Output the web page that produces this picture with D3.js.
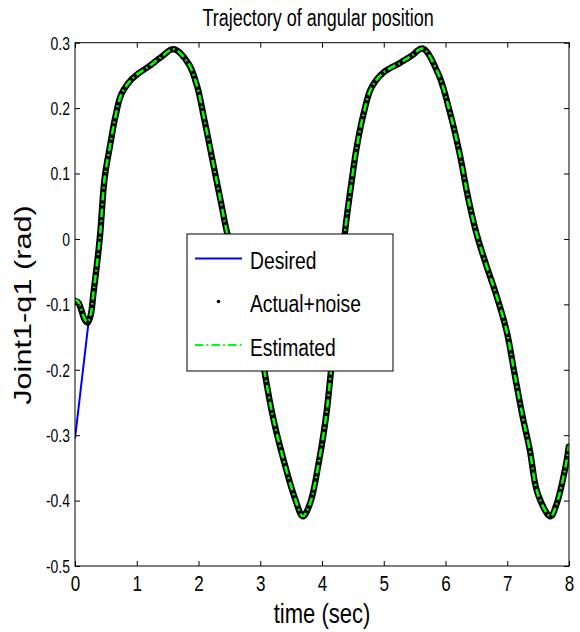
<!DOCTYPE html>
<html>
<head>
<meta charset="utf-8">
<script src="https://cdn.jsdelivr.net/npm/d3@7"></script>
<style>
  body { margin: 0; background: #fff; }
  text { font-family: "Liberation Sans", Arial, sans-serif; fill: #000; }
</style>
</head>
<body>
<script>
// values
const tDesired = [0, 0.1, 0.2, 0.3, 0.4, 0.48, 0.57, 0.65, 0.75, 0.88, 1.0, 1.2, 1.38, 1.6, 1.83, 1.97, 2.1, 2.24, 2.37, 2.47,
  2.63, 2.8, 2.97, 3.07, 3.21, 3.37, 3.56, 3.69, 3.8, 3.96, 4.07, 4.14, 4.26, 4.37, 4.48, 4.56, 4.67, 4.8, 4.99, 5.26,
  5.45, 5.63, 5.88, 6.07, 6.23, 6.36, 6.5, 6.66, 6.82, 6.99, 7.12, 7.25, 7.36, 7.5, 7.7, 7.8, 7.96, 8.0];
const qDesired = [-0.305, -0.224, -0.143, -0.065, 0.012, 0.093, 0.144, 0.185, 0.221, 0.24, 0.251, 0.264, 0.277, 0.29, 0.269, 0.236, 0.18, 0.114, 0.053, 0.007,
  -0.042, -0.085, -0.14, -0.203, -0.274, -0.335, -0.396, -0.424, -0.406, -0.335, -0.268, -0.207, -0.1, 0.009, 0.088, 0.139, 0.19, 0.231, 0.254, 0.269,
  0.28, 0.291, 0.253, 0.194, 0.13, 0.066, 0.009, -0.04, -0.085, -0.141, -0.207, -0.272, -0.32, -0.391, -0.424, -0.405, -0.34, -0.315];

const tActual = [0, 0.05, 0.1, 0.15, 0.2, 0.25, 0.3, 0.4, 0.48, 0.57, 0.65, 0.75, 0.88, 1.0, 1.2, 1.38, 1.6, 1.83, 1.97, 2.1, 2.24, 2.37, 2.47,
  2.63, 2.8, 2.97, 3.07, 3.21, 3.37, 3.56, 3.69, 3.8, 3.96, 4.07, 4.14, 4.26, 4.37, 4.48, 4.56, 4.67, 4.8, 4.99, 5.26,
  5.45, 5.63, 5.88, 6.07, 6.23, 6.36, 6.5, 6.66, 6.82, 6.99, 7.12, 7.25, 7.36, 7.5, 7.7, 7.8, 7.96, 8.0];
const qActual = [-0.095, -0.097, -0.108, -0.122, -0.128, -0.118, -0.082, 0.0, 0.093, 0.144, 0.185, 0.221, 0.24, 0.251, 0.264, 0.277, 0.29, 0.269, 0.236, 0.18, 0.114, 0.053, 0.007,
  -0.042, -0.085, -0.14, -0.203, -0.274, -0.335, -0.396, -0.424, -0.406, -0.335, -0.268, -0.207, -0.1, 0.009, 0.088, 0.139, 0.19, 0.231, 0.254, 0.269,
  0.28, 0.291, 0.253, 0.194, 0.13, 0.066, 0.009, -0.04, -0.085, -0.141, -0.207, -0.272, -0.32, -0.391, -0.424, -0.405, -0.34, -0.315];

const tEstimated = [0, 0.05, 0.1, 0.15, 0.2, 0.25, 0.3, 0.4, 0.48, 0.57, 0.65, 0.75, 0.88, 1.0, 1.2, 1.38, 1.6, 1.83, 1.97, 2.1, 2.24, 2.37, 2.47,
  2.63, 2.8, 2.97, 3.07, 3.21, 3.37, 3.56, 3.69, 3.8, 3.96, 4.07, 4.14, 4.26, 4.37, 4.48, 4.56, 4.67, 4.8, 4.99, 5.26,
  5.45, 5.63, 5.88, 6.07, 6.23, 6.36, 6.5, 6.66, 6.82, 6.99, 7.12, 7.25, 7.36, 7.5, 7.7, 7.8, 7.96, 8.0];
const qEstimated = [-0.093, -0.096, -0.107, -0.121, -0.127, -0.117, -0.081, 0.0, 0.093, 0.144, 0.185, 0.221, 0.24, 0.251, 0.264, 0.277, 0.29, 0.269, 0.236, 0.18, 0.114, 0.053, 0.007,
  -0.042, -0.085, -0.14, -0.203, -0.274, -0.335, -0.396, -0.424, -0.406, -0.335, -0.268, -0.207, -0.1, 0.009, 0.088, 0.139, 0.19, 0.231, 0.254, 0.269,
  0.28, 0.291, 0.253, 0.194, 0.13, 0.066, 0.009, -0.04, -0.085, -0.141, -0.207, -0.272, -0.32, -0.391, -0.424, -0.405, -0.34, -0.315];

const xTicks = [0, 1, 2, 3, 4, 5, 6, 7, 8];
const yTicks = [-0.5, -0.4, -0.3, -0.2, -0.1, 0, 0.1, 0.2, 0.3];
const yTickLabels = ["-0.5", "-0.4", "-0.3", "-0.2", "-0.1", "0", "0.1", "0.2", "0.3"];
const legendNames = ["Desired", "Actual+noise", "Estimated"];

// the original figure was stretched vertically, so the text is too
const k = 1.28;

const margin = {top: 42.7, right: 11, bottom: 66, left: 75},
    width = 580 - margin.left - margin.right,
    height = 632 - margin.top - margin.bottom;

const svg = d3.select("body").append("svg")
    .attr("width", 580)
    .attr("height", 632);

const g = svg.append("g")
    .attr("transform", `translate(${margin.left},${margin.top})`);

const x = d3.scaleLinear().domain([0, 8]).range([0, width]);
const y = d3.scaleLinear().domain([-0.5, 0.3]).range([height, 0]);

// clip the curves to the axes box
g.append("clipPath").attr("id", "clip")
  .append("rect").attr("width", width).attr("height", height);

function series(ts, qs) { return ts.map((t, i) => [t, qs[i]]); }

const line = d3.line()
    .x(d => x(d[0]))
    .y(d => y(d[1]))
    .curve(d3.curveCatmullRom.alpha(0.5));

const plot = g.append("g").attr("clip-path", "url(#clip)");

plot.append("path")
    .attr("d", line(series(tDesired, qDesired)))
    .attr("fill", "none")
    .attr("stroke", "#0000ff")
    .attr("stroke-width", 2);

// actual+noise: dense black dots
plot.append("path")
    .attr("d", line(series(tActual, qActual)))
    .attr("fill", "none")
    .attr("stroke", "#000")
    .attr("stroke-width", 6.5)
    .attr("stroke-linecap", "round")
    .attr("stroke-dasharray", "0.01 2.2");

plot.append("path")
    .attr("d", line(series(tEstimated, qEstimated)))
    .attr("fill", "none")
    .attr("stroke", "#00ff00")
    .attr("stroke-width", 2.6)
    .attr("stroke-dasharray", "8.3 3.3 1.7 3.3");

// axes, ticks inside on all four sides
function tidy(sel) {
  sel.select(".domain").remove();
  sel.selectAll(".tick line").attr("stroke", "#000");
}

const xAxis = g.append("g")
    .attr("transform", `translate(0,${height})`)
    .call(d3.axisBottom(x).tickValues(xTicks).tickSizeInner(-5).tickSizeOuter(0).tickFormat(d3.format("d")))
    .call(tidy);
xAxis.selectAll("text")
    .attr("y", null).attr("dy", null)
    .attr("transform", `translate(0,25) scale(1,${k})`)
    .attr("font-size", 17)
    .attr("fill", "#000");

g.append("g")
    .call(d3.axisTop(x).tickValues(xTicks).tickSizeInner(-5).tickSizeOuter(0).tickFormat(""))
    .call(tidy);

const yAxis = g.append("g")
    .call(d3.axisLeft(y).tickValues(yTicks).tickSizeInner(-5).tickSizeOuter(0)
      .tickFormat((d, i) => yTickLabels[i]))
    .call(tidy);
yAxis.selectAll("text")
    .attr("x", null).attr("dy", null)
    .attr("transform", `translate(-5,6.4) scale(1,${k})`)
    .attr("font-size", 14)
    .attr("fill", "#000");

g.append("g")
    .attr("transform", `translate(${width},0)`)
    .call(d3.axisRight(y).tickValues(yTicks).tickSizeInner(-5).tickSizeOuter(0).tickFormat(""))
    .call(tidy);

g.append("rect")
    .attr("width", width).attr("height", height)
    .attr("fill", "none").attr("stroke", "#000").attr("stroke-width", 1);

// titles
function label(txt, px, py, size, rot) {
  svg.append("text")
      .attr("transform", `translate(${px},${py}) scale(1,${k})` + (rot ? ` rotate(${rot})` : ""))
      .attr("text-anchor", "middle")
      .attr("font-size", size)
      .text(txt);
}
label("Trajectory of angular position", 318, 26, 18);
label("time (sec)", 322, 623, 22);
label("Joint1-q1 (rad)", 31, 305, 24, -90);

// legend
const lg = svg.append("g").attr("transform", "translate(187,234)");
lg.append("rect")
    .attr("width", 206).attr("height", 137)
    .attr("fill", "#fff").attr("stroke", "#000").attr("stroke-width", 1);

const rowY = [24.5, 67.5, 111];
lg.append("line")
    .attr("x1", 8).attr("x2", 55).attr("y1", rowY[0]).attr("y2", rowY[0])
    .attr("stroke", "#0000ff").attr("stroke-width", 2);
lg.append("circle")
    .attr("cx", 31.5).attr("cy", rowY[1]).attr("r", 1.8)
    .attr("fill", "#000");
lg.append("line")
    .attr("x1", 8).attr("x2", 55).attr("y1", rowY[2]).attr("y2", rowY[2])
    .attr("stroke", "#00ff00").attr("stroke-width", 2.2)
    .attr("stroke-dasharray", "8.3 3.3 1.7 3.3");

lg.selectAll("text.leg")
    .data(legendNames)
    .enter()
    .append("text")
      .attr("class", "leg")
      .attr("transform", (d, i) => `translate(63,${rowY[i] + 10.5}) scale(1,${k})`)
      .attr("font-size", 19.3)
      .text(d => d);
</script>
</body>
</html>
